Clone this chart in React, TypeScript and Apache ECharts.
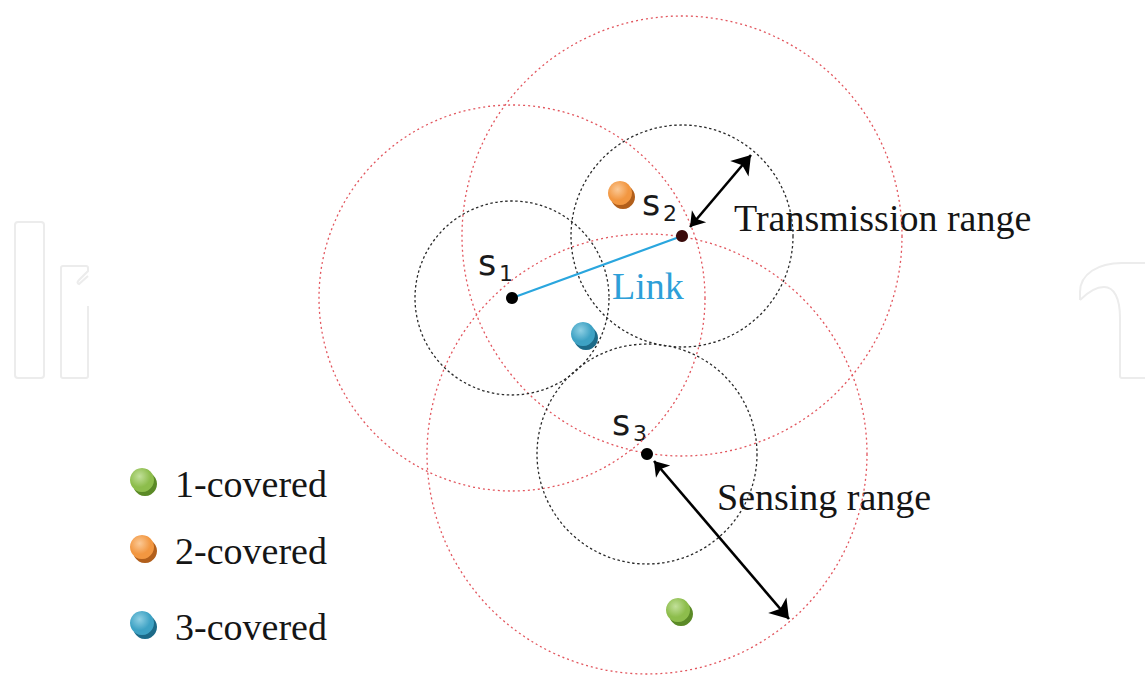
import React, { useEffect, useRef } from "react";
import * as echarts from "echarts";

// Sensor nodes
const nodeNames = ["s1", "s2", "s3"];
const nodeSub = ["1", "2", "3"];
const nodeX = [512, 682, 647];
const nodeY = [298, 236, 454];
const sensingRadius = [97, 111, 110];
const transmissionRadius = [193, 220, 220];

// Link between s1 and s2
const linkPair = [0, 1];

// Covered points
const coveredX = [678, 620, 583];
const coveredY = [610, 193, 334];
const coveredLevel = [1, 2, 3];

// Legend
const legendLabels = ["1-covered", "2-covered", "3-covered"];
const legendLevel = [1, 2, 3];
const legendX = [142, 142, 142];
const legendY = [480, 547, 623];

// Range arrows [x1, y1, x2, y2]
const transmissionArrow = [690, 227, 751, 155];
const sensingArrow = [654, 461, 789, 619];

const ballColors: Record<number, { light: string; main: string; dark: string }> = {
  1: { light: "#c2e09a", main: "#8dbd4c", dark: "#5b8a27" },
  2: { light: "#fbc996", main: "#f29741", dark: "#b25f1b" },
  3: { light: "#8fd0e4", main: "#3ea2c4", dark: "#1c6a88" },
};

const serif = "'Liberation Serif', 'Times New Roman', serif";
const sans = "'DejaVu Sans', sans-serif";

let wmRegistered = false;
function registerWatermark() {
  if (wmRegistered) return;
  echarts.graphic.registerShape(
    "wmArch",
    echarts.graphic.extendPath(
      "M1080 300 L1080 292 C1080 274 1098 263 1122 263 L1150 263 M1080 300 C1088 292 1097 287 1104 287 C1114 287 1120 298 1120 318 L1120 376 Q1120 378 1122 378 L1150 378",
      {}
    )
  );
  echarts.graphic.registerShape(
    "wmBar2",
    echarts.graphic.extendPath(
      "M88 306 L88 376 Q88 378 86 378 L63 378 Q61 378 61 376 L61 268 Q61 266 63 266 L86 266 Q88 266 88 268 L88 271 L79 280 Q76 283 79 284 L88 276",
      {}
    )
  );
  wmRegistered = true;
}

function ball(cx: number, cy: number, level: number) {
  const c = ballColors[level];
  return [
    {
      type: "circle",
      shape: { cx: cx + 3, cy: cy + 4, r: 12 },
      style: { fill: c.dark },
    },
    {
      type: "circle",
      shape: { cx, cy, r: 12 },
      style: {
        fill: new echarts.graphic.RadialGradient(0.4, 0.35, 0.75, [
          { offset: 0, color: c.light },
          { offset: 0.6, color: c.main },
          { offset: 1, color: c.main },
        ]),
      },
    },
  ];
}

export default function App() {
  const ref = useRef<HTMLDivElement>(null);

  useEffect(() => {
    if (!ref.current) return;
    registerWatermark();
    const chart = echarts.init(ref.current, undefined, { renderer: "svg" });

    const circleSeries = (radii: number[], color: string, dash: number[], width: number) => ({
      type: "custom",
      coordinateSystem: "cartesian2d",
      silent: true,
      data: nodeX.map((x, i) => [x, nodeY[i], radii[i]]),
      renderItem: (_p: any, api: any) => {
        const c = api.coord([api.value(0), api.value(1)]);
        const r = api.size([api.value(2), 0])[0];
        return {
          type: "circle",
          shape: { cx: c[0], cy: c[1], r },
          style: { fill: "none", stroke: color, lineWidth: width, lineDash: dash },
        };
      },
    });

    const arrowData = [transmissionArrow, sensingArrow].map((a) => ({
      coords: [
        [a[0], a[1]],
        [a[2], a[3]],
      ],
    }));

    const labelGraphics: any[] = [];
    const labelOffsets = [
      [-25, -35],
      [-31, -33],
      [-26, -31],
    ];
    nodeNames.forEach((_n, i) => {
      const lx = nodeX[i] + labelOffsets[i][0];
      const ly = nodeY[i] + labelOffsets[i][1];
      labelGraphics.push({
        type: "text",
        x: lx,
        y: ly,
        style: {
          text: "s",
          fontSize: 35,
          fontFamily: sans,
          fill: "#1a1a1a",
          textAlign: "center",
          textVerticalAlign: "middle",
          align: "center",
          verticalAlign: "middle",
        },
      });
      labelGraphics.push({
        type: "text",
        x: lx + 19,
        y: ly + 10,
        style: {
          text: nodeSub[i],
          fontSize: 22,
          fontFamily: sans,
          fill: "#1a1a1a",
          textAlign: "center",
          textVerticalAlign: "middle",
          align: "center",
          verticalAlign: "middle",
        },
      });
    });

    const bigText = (text: string, x: number, y: number, fill: string) => ({
      type: "text",
      x,
      y,
      style: {
        text,
        fontSize: 38,
        fontFamily: serif,
        fill,
        textAlign: "left",
        textVerticalAlign: "middle",
        align: "left",
        verticalAlign: "middle",
      },
    });

    chart.setOption({
      animation: false,
      backgroundColor: "#ffffff",
      grid: { left: 0, right: 0, top: 0, bottom: 0 },
      xAxis: { type: "value", min: 0, max: 1145, show: false },
      yAxis: { type: "value", min: 0, max: 675, inverse: true, show: false },
      graphic: [
        {
          type: "rect",
          shape: { x: 15, y: 222, width: 29, height: 156, r: 3 },
          style: { fill: "none", stroke: "#ececec", lineWidth: 2 },
          silent: true,
          z: -10,
        },
        {
          type: "wmBar2",
          x: 0,
          y: 0,
          style: { fill: "none", stroke: "#ececec", lineWidth: 2 },
          silent: true,
          z: -10,
        },
        {
          type: "wmArch",
          x: 0,
          y: 0,
          style: { fill: "none", stroke: "#ececec", lineWidth: 2 },
          silent: true,
          z: -10,
        },
        ...labelGraphics,
        bigText("Transmission range", 734, 218, "#151515"),
        bigText("Sensing range", 717, 497, "#151515"),
        bigText("Link", 612, 286, "#2e9fd8"),
      ],
      series: [
        circleSeries(transmissionRadius, "#e2565e", [2, 3], 1.3),
        circleSeries(sensingRadius, "#2a2a2a", [2.5, 2.5], 1.3),
        {
          type: "lines",
          coordinateSystem: "cartesian2d",
          silent: true,
          symbol: ["none", "none"],
          lineStyle: { color: "#2aa6de", width: 2.2, opacity: 1 },
          data: [
            {
              coords: [
                [nodeX[linkPair[0]], nodeY[linkPair[0]]],
                [nodeX[linkPair[1]], nodeY[linkPair[1]]],
              ],
            },
          ],
        },
        {
          type: "lines",
          coordinateSystem: "cartesian2d",
          silent: true,
          symbol: ["arrow", "arrow"],
          symbolSize: [14, 18],
          lineStyle: { color: "#000", width: 2.6, opacity: 1 },
          data: arrowData,
        },
        {
          type: "scatter",
          silent: true,
          symbol: "circle",
          symbolSize: 12,
          itemStyle: {
            opacity: 1,
            color: (p: any) => (p.dataIndex === 1 ? "#3a0b0b" : "#000"),
          },
          data: nodeX.map((x, i) => [x, nodeY[i]]),
          z: 5,
        },
        {
          type: "custom",
          coordinateSystem: "cartesian2d",
          silent: true,
          data: coveredX.map((x, i) => [x, coveredY[i], coveredLevel[i]]),
          renderItem: (_p: any, api: any) => {
            const c = api.coord([api.value(0), api.value(1)]);
            return { type: "group", children: ball(c[0], c[1], api.value(2)) };
          },
          z: 4,
        },
        {
          type: "custom",
          coordinateSystem: "cartesian2d",
          silent: true,
          data: legendX.map((x, i) => [x, legendY[i], legendLevel[i], i]),
          renderItem: (_p: any, api: any) => {
            const c = api.coord([api.value(0), api.value(1)]);
            const idx = api.value(3);
            return {
              type: "group",
              children: [
                ...ball(c[0], c[1], api.value(2)),
                {
                  type: "text",
                  x: c[0] + 33,
                  y: c[1] + 4,
                  style: {
                    text: legendLabels[idx],
                    fontSize: 38,
                    fontFamily: serif,
                    fill: "#151515",
                    textAlign: "left",
                    textVerticalAlign: "middle",
                    align: "left",
                    verticalAlign: "middle",
                  },
                },
              ],
            };
          },
        },
      ],
    });

    return () => chart.dispose();
  }, []);

  return (
    <div
      ref={ref}
      style={{ position: "fixed", left: 0, top: 0, width: 1145, height: 675, background: "#fff" }}
    />
  );
}
